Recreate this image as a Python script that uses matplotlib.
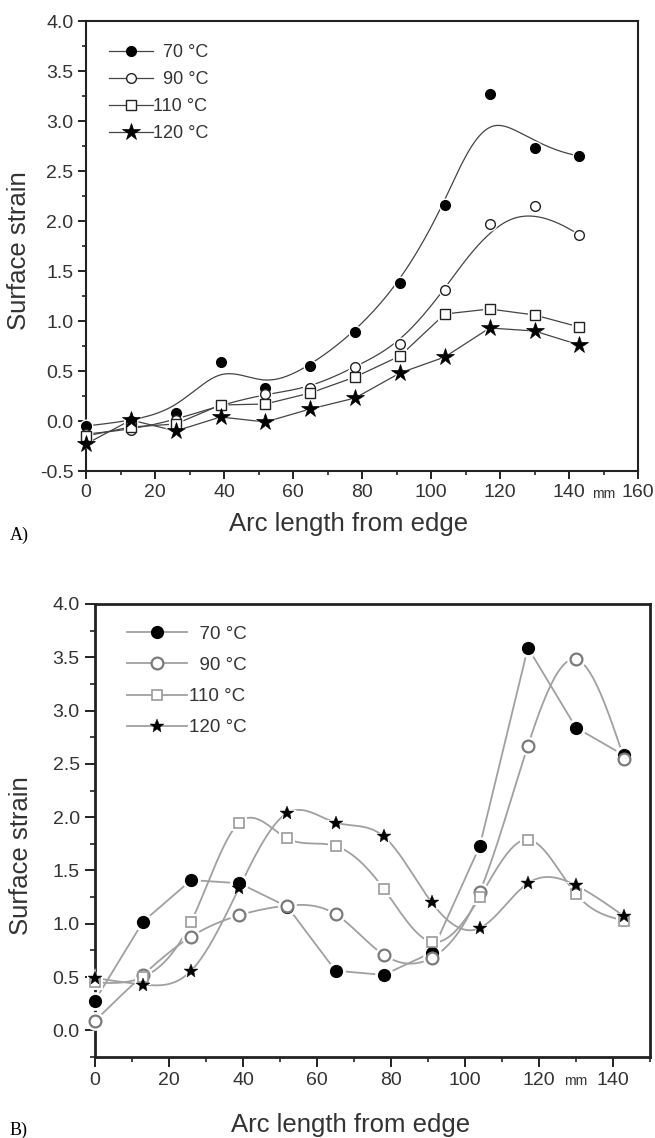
import numpy as np
import matplotlib
matplotlib.use('Agg')
import matplotlib.pyplot as plt
from matplotlib.lines import Line2D
from matplotlib.ticker import MultipleLocator, FormatStrFormatter
import matplotlib.transforms as mtransforms

plt.rcParams['font.family'] = ['Liberation Sans', 'DejaVu Sans']

# arc length positions (mm), same for every series
arc_mm = [0, 13, 26, 39, 52, 65, 78, 91, 104, 117, 130, 143]
labels = ['  70 °C', '  90 °C', '110 °C', '120 °C']

# panel A) surface strain
strain_a_70 = [-0.05, 0.00, 0.08, 0.59, 0.33, 0.55, 0.89, 1.38, 2.16, 3.27, 2.73, 2.65]
strain_a_90 = [-0.13, -0.09, 0.01, 0.16, 0.27, 0.33, 0.54, 0.77, 1.31, 1.97, 2.15, 1.86]
strain_a_110 = [-0.15, -0.06, -0.03, 0.16, 0.17, 0.28, 0.44, 0.65, 1.07, 1.12, 1.06, 0.94]
strain_a_120 = [-0.23, 0.01, -0.10, 0.04, -0.01, 0.12, 0.23, 0.48, 0.64, 0.93, 0.90, 0.76]

# panel B) surface strain
strain_b_70 = [0.28, 1.02, 1.41, 1.38, 1.16, 0.56, 0.52, 0.73, 1.73, 3.59, 2.84, 2.58]
strain_b_90 = [0.09, 0.52, 0.88, 1.08, 1.17, 1.09, 0.71, 0.68, 1.30, 2.67, 3.48, 2.55]
strain_b_110 = [0.45, 0.50, 1.02, 1.95, 1.80, 1.73, 1.33, 0.83, 1.25, 1.79, 1.28, 1.03]
strain_b_120 = [0.49, 0.43, 0.56, 1.34, 2.04, 1.95, 1.82, 1.20, 0.96, 1.38, 1.36, 1.07]


def bspline(xs, ys, num=400):
  """clamped cubic B-spline, data points used as control points"""
  p = np.column_stack([xs, ys]).astype(float)
  n, k = len(p), 3
  t = np.concatenate([np.zeros(k), np.arange(n - k + 1), np.full(k, n - k)]).astype(float)
  u = np.linspace(0, n - k, num)
  B = np.zeros((num, len(t) - 1))
  for i in range(len(t) - 1):
    B[:, i] = (u >= t[i]) & (u < t[i + 1])
  B[-1, n - 1] = 1.0
  for d in range(1, k + 1):
    Bn = np.zeros((num, len(t) - 1 - d))
    for i in range(len(t) - 1 - d):
      a = t[i + d] - t[i]
      b = t[i + d + 1] - t[i + 1]
      left = (u - t[i]) / a * B[:, i] if a > 0 else 0.0
      right = (t[i + d + 1] - u) / b * B[:, i + 1] if b > 0 else 0.0
      Bn[:, i] = left + right
    B = Bn
  c = B @ p
  return c[:, 0], c[:, 1]


def natural_spline(xs, ys, num=400):
  x = np.asarray(xs, float)
  y = np.asarray(ys, float)
  n = len(x)
  h = np.diff(x)
  A = np.zeros((n, n))
  r = np.zeros(n)
  A[0, 0] = A[-1, -1] = 1.0
  for i in range(1, n - 1):
    A[i, i - 1] = h[i - 1]
    A[i, i] = 2 * (h[i - 1] + h[i])
    A[i, i + 1] = h[i]
    r[i] = 6 * ((y[i + 1] - y[i]) / h[i] - (y[i] - y[i - 1]) / h[i - 1])
  M = np.linalg.solve(A, r)
  xx = np.linspace(x[0], x[-1], num)
  j = np.clip(np.searchsorted(x, xx) - 1, 0, n - 2)
  dx1 = x[j + 1] - xx
  dx0 = xx - x[j]
  hj = h[j]
  yy = (M[j] * dx1 ** 3 + M[j + 1] * dx0 ** 3) / (6 * hj) \
    + (y[j] / hj - M[j] * hj / 6) * dx1 + (y[j + 1] / hj - M[j + 1] * hj / 6) * dx0
  return xx, yy


def style_axes(ax, xmax, ymin, spine_w, tlen, tpad):
  ax.set_xlim(0, xmax)
  ax.set_ylim(ymin, 4.0)
  ax.xaxis.set_major_locator(MultipleLocator(20))
  ax.xaxis.set_minor_locator(MultipleLocator(10))
  ax.yaxis.set_major_locator(MultipleLocator(0.5))
  ax.yaxis.set_minor_locator(MultipleLocator(0.25))
  ax.yaxis.set_major_formatter(FormatStrFormatter('%.1f'))
  ax.tick_params(which='major', direction='out', length=tlen, width=1.4, labelsize=14,
                 color='#222', labelcolor='#333', pad=tpad)
  ax.tick_params(which='minor', direction='out', length=tlen * 0.5, width=1.2, color='#222')
  for s in ax.spines.values():
    s.set_linewidth(spine_w)
    s.set_color('#222')
  ax.set_ylabel('Surface strain', fontsize=18.5, color='#333')
  ax.set_xlabel('Arc length from edge', fontsize=18.5, color='#333')
  ax.yaxis.label.set_verticalalignment('center')
  ax.xaxis.label.set_verticalalignment('center')


def draw(ax, xs, ys, curve, line_c, lw, mk, halo):
  if curve == 'bspline':
    cx, cy = bspline(xs, ys)
  elif curve == 'spline':
    cx, cy = natural_spline(xs, ys)
  else:
    cx, cy = xs, ys
  ax.plot(cx, cy, color=line_c, lw=lw, zorder=2, clip_on=False)
  ax.plot(xs, ys, linestyle='none', marker=mk['marker'], ms=mk['ms'] + halo,
          mfc='white', mec='white', mew=0, zorder=3, clip_on=False)
  ax.plot(xs, ys, linestyle='none', zorder=4, clip_on=False, **mk)


fig = plt.figure(figsize=(6.55, 11.38), dpi=100)

# ---------- panel A ----------
ax1 = fig.add_axes([86 / 655, 1 - 471 / 1138, 552 / 655, 450 / 1138])
style_axes(ax1, 160, -0.5, 1.5, 6, 3)
mk_a = [dict(marker='o', ms=7, mfc='black', mec='black', mew=1.0),
        dict(marker='o', ms=7, mfc='white', mec='#222', mew=1.0),
        dict(marker='s', ms=7, mfc='white', mec='#222', mew=1.0),
        dict(marker='*', ms=13, mfc='black', mec='black', mew=0.5)]
series_a = [strain_a_70, strain_a_90, strain_a_110, strain_a_120]
curves_a = ['bspline', 'bspline', 'line', 'line']
for ys, cv, mk in zip(series_a, curves_a, mk_a):
  draw(ax1, arc_mm, ys, cv, '#444', 0.9, mk, 3)
handles = [Line2D([], [], color='#444', lw=0.9, **m) for m in mk_a]
ax1.legend(handles, labels, loc='upper left', bbox_to_anchor=(0.042, 0.948),
           frameon=False, borderpad=0, borderaxespad=0, handlelength=2.4,
           handletextpad=0.0, labelspacing=0.55, fontsize=13,
           labelcolor='#333')
ax1.xaxis.set_label_coords(0.475, -0.118)
ax1.yaxis.set_label_coords(-0.121, 0.49)
trans = mtransforms.blended_transform_factory(ax1.transData, ax1.transAxes)
ax1.text(150, -0.05, 'mm', transform=trans, ha='center', va='center',
         fontsize=10, color='#333')
fig.text(10 / 655, 1 - 535 / 1138, 'A)', family='Liberation Serif', fontsize=13,
         va='center', ha='left')

# ---------- panel B ----------
ax2 = fig.add_axes([95 / 655, 1 - 1057 / 1138, 555 / 655, 453 / 1138])
style_axes(ax2, 150, -0.25, 2.0, 7, 4)
mk_b = [dict(marker='o', ms=8.5, mfc='black', mec='black', mew=1.0),
        dict(marker='o', ms=8.5, mfc='white', mec='#7a7a7a', mew=1.6),
        dict(marker='s', ms=7, mfc='white', mec='#9a9a9a', mew=1.2),
        dict(marker='*', ms=10, mfc='black', mec='black', mew=0.3)]
series_b = [strain_b_70, strain_b_90, strain_b_110, strain_b_120]
curves_b = ['line', 'spline', 'spline', 'spline']
for ys, cv, mk in zip(series_b, curves_b, mk_b):
  draw(ax2, arc_mm, ys, cv, '#a0a0a0', 1.3, mk, 5)
handles = [Line2D([], [], color='#a0a0a0', lw=1.3, **m) for m in mk_b]
ax2.legend(handles, labels, loc='upper left', bbox_to_anchor=(0.057, 0.952),
           frameon=False, borderpad=0, borderaxespad=0, handlelength=3.2,
           handletextpad=0.1, labelspacing=0.75, fontsize=13.5,
           labelcolor='#333')
ax2.xaxis.set_label_coords(0.46, -0.150)
ax2.yaxis.set_label_coords(-0.133, 0.444)
trans = mtransforms.blended_transform_factory(ax2.transData, ax2.transAxes)
ax2.text(130, -0.052, 'mm', transform=trans, ha='center', va='center',
         fontsize=10, color='#333')
fig.text(10 / 655, 1 - 1130 / 1138, 'B)', family='Liberation Serif', fontsize=13,
         va='center', ha='left')

fig.savefig('out.png', dpi=100)
